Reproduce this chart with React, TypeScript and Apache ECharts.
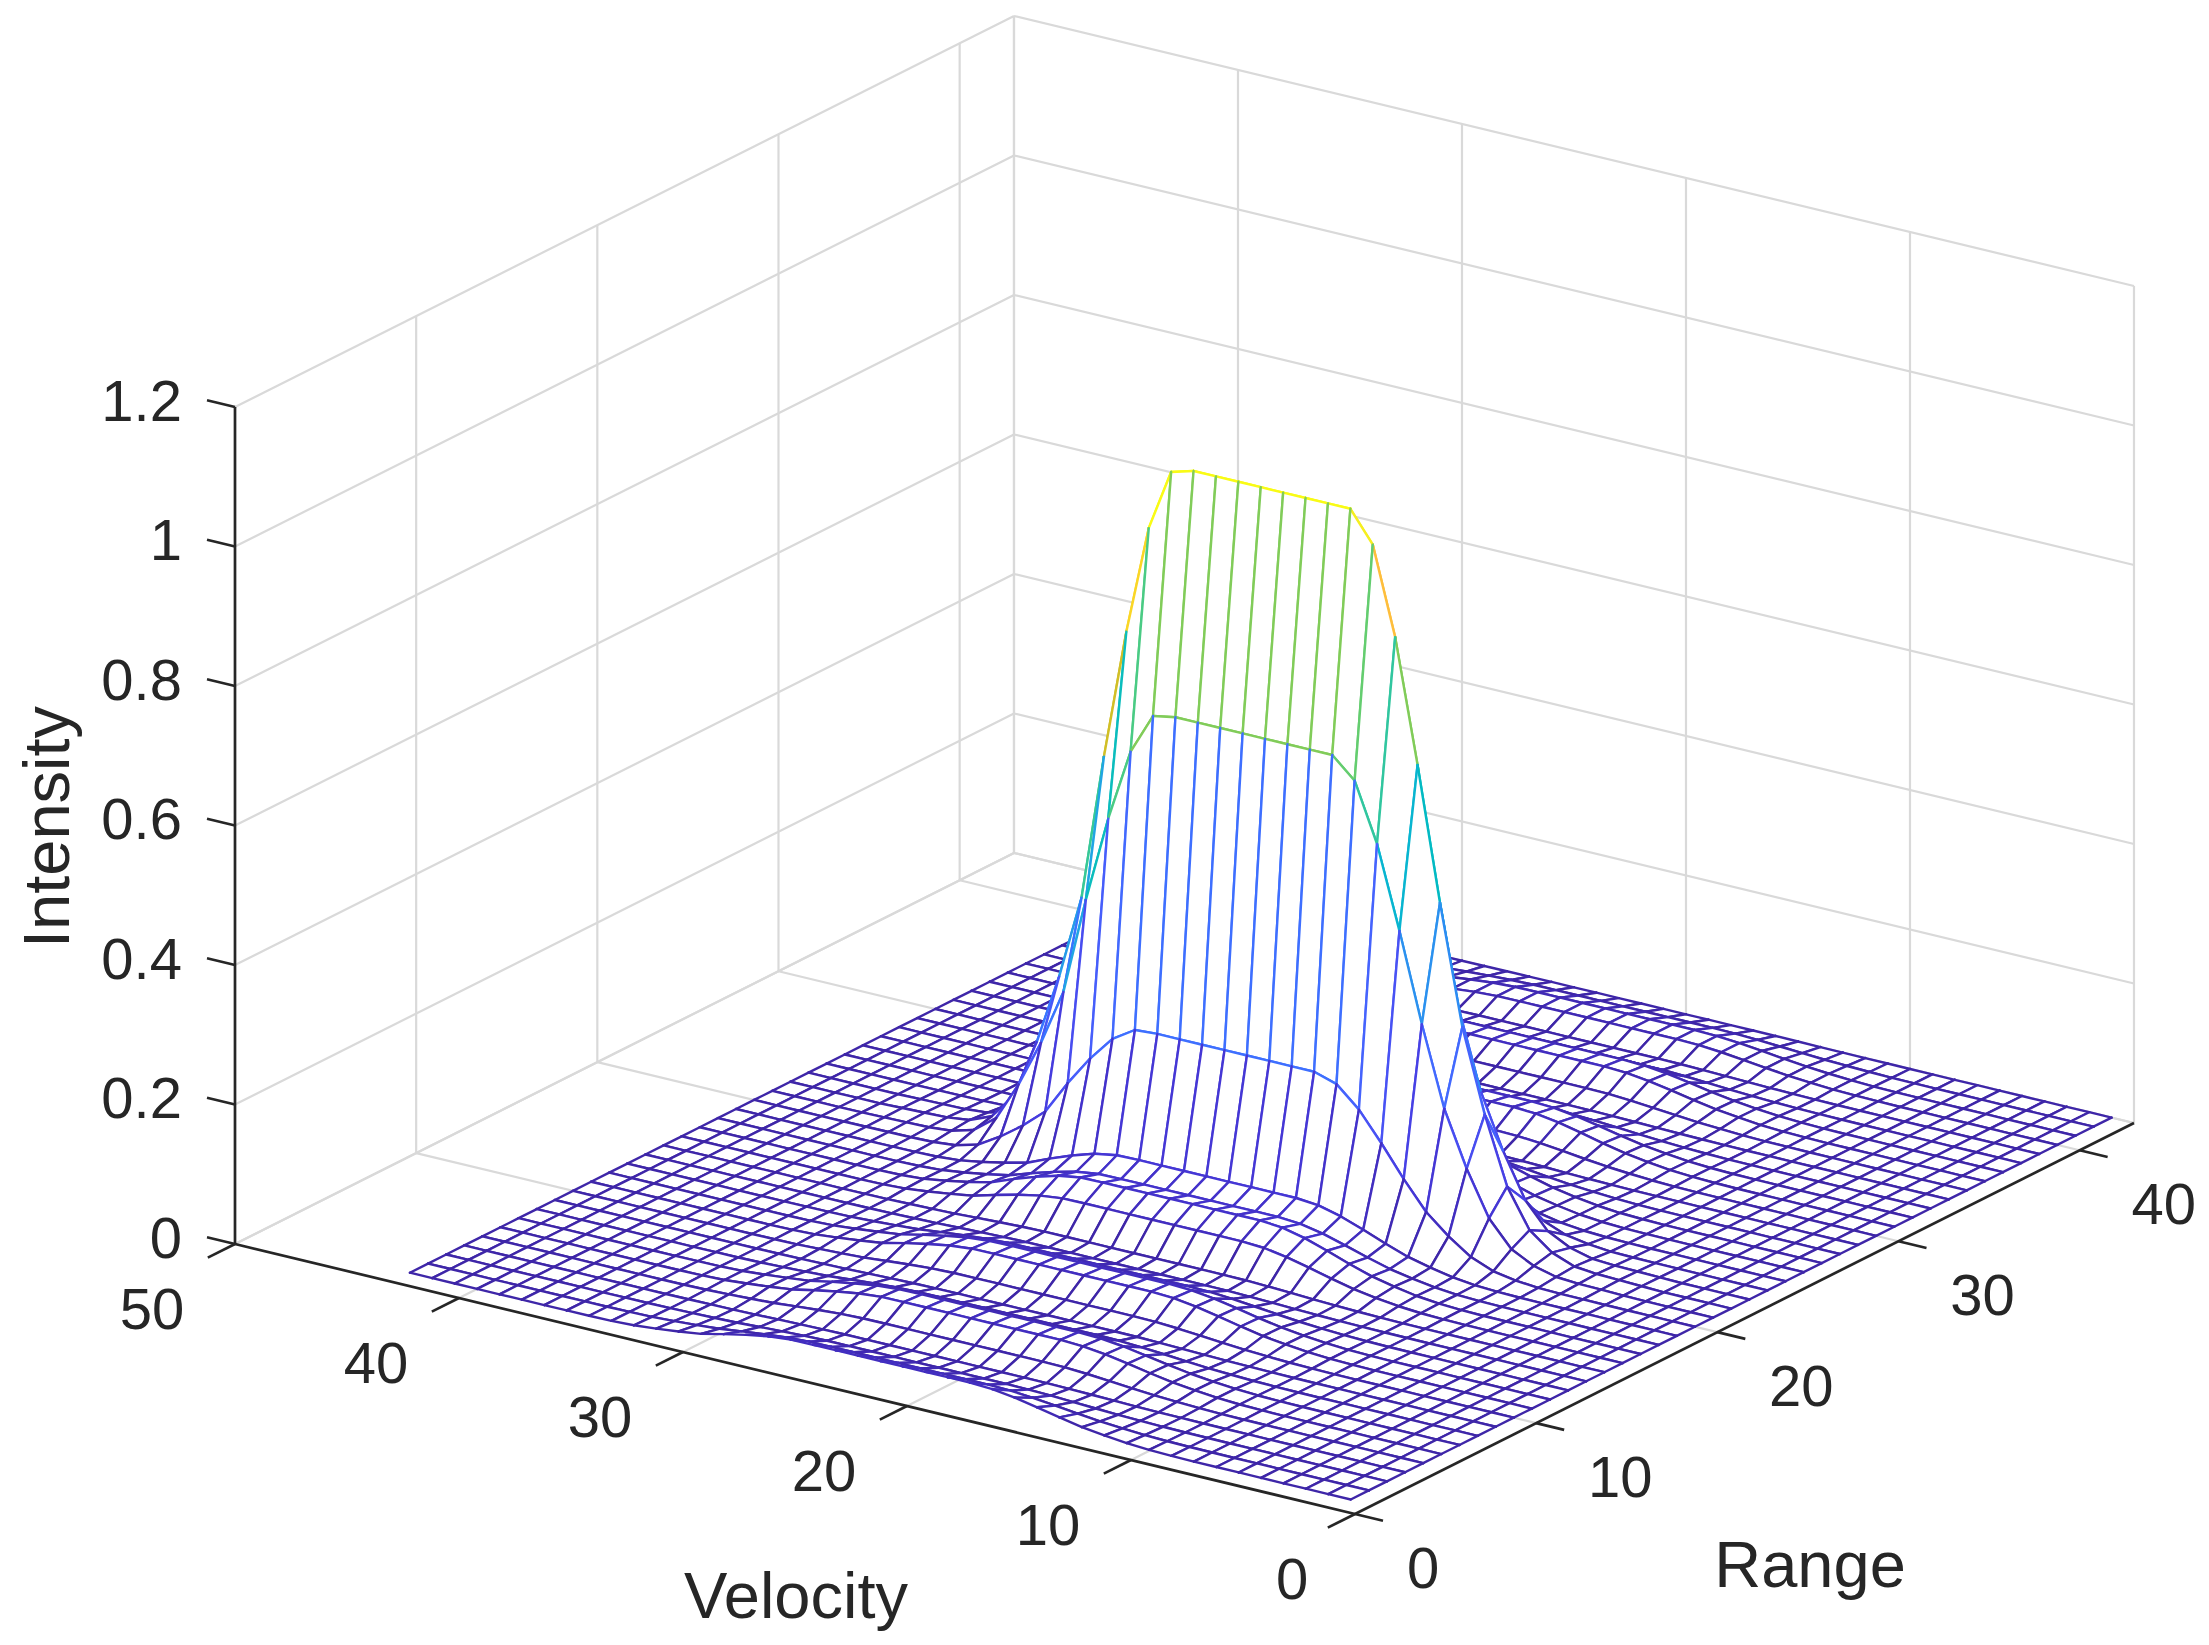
import React, { useEffect, useRef } from "react";
import * as echarts from "echarts";

// Values
const rangeIndex = Array.from({ length: 43 }, (_, i) => i + 1);
const velocityIndex = Array.from({ length: 43 }, (_, i) => i + 1);
// Intensity along Range (index 1..43), on the flat top of the ridge
const rangeProfile = [
  0.036, 0.02, 0.008, 0.004, 0.014, 0.032, 0.03, 0.013, 0.005, 0.014,
  0.036, 0.034, 0.018, 0.006, 0.008, 0.043, 0.06, 0.052, 0.066, 0.234,
  0.675, 1.015, 0.675, 0.234, 0.066, 0.055, 0.05, 0.02, 0.005, 0.02,
  0.04, 0.035, 0.012, 0.004, 0.015, 0.033, 0.03, 0.01, 0.005, 0.02,
  0.02, 0.01, 0.001,
];
// Relative height along Velocity (index 1..43)
const velocityProfile = [
  0, 0, 0, 0, 0.001, 0.002, 0.003, 0.006, 0.018, 0.042,
  0.096, 0.19, 0.306, 0.474, 0.661, 0.834, 0.957, 1, 1, 1,
  1, 1, 1, 1, 1, 0.991, 0.904, 0.75, 0.566, 0.359,
  0.24, 0.14, 0.057, 0.02, 0.007, 0.003, 0.002, 0.001, 0, 0,
  0, 0, 0,
];
const intensityTicks = [0, 0.2, 0.4, 0.6, 0.8, 1, 1.2];
const intensityLabels = ["0", "0.2", "0.4", "0.6", "0.8", "1", "1.2"];
const velocityTicks = [0, 10, 20, 30, 40, 50];
const rangeTicks = [0, 10, 20, 30, 40];

const R_MAX = 43;
const V_MAX = 50;
const Z_MAX = 1.2;
const Z_CLIM = 1.015;

// Parula colour map
const parula = [
  [0.2422,0.1504,0.6603],[0.2504,0.165,0.7076],[0.2578,0.1818,0.7511],[0.2647,0.1978,0.7952],
  [0.2706,0.2147,0.8364],[0.2751,0.2342,0.871],[0.2783,0.2559,0.8991],[0.2803,0.2782,0.9221],
  [0.2813,0.3006,0.9414],[0.281,0.3228,0.9579],[0.2795,0.3447,0.9717],[0.276,0.3667,0.9829],
  [0.2699,0.3892,0.9906],[0.2602,0.4123,0.9952],[0.244,0.4358,0.9988],[0.2206,0.4603,0.9973],
  [0.1963,0.4847,0.9892],[0.1834,0.5074,0.9798],[0.1786,0.5289,0.9682],[0.1764,0.5499,0.952],
  [0.1687,0.5703,0.9359],[0.154,0.5902,0.9218],[0.146,0.6091,0.9079],[0.138,0.6276,0.8973],
  [0.1248,0.6459,0.8883],[0.1113,0.6635,0.8763],[0.0952,0.6798,0.8598],[0.0689,0.6948,0.8394],
  [0.0297,0.7082,0.8163],[0.0036,0.7203,0.7917],[0.0067,0.7312,0.766],[0.0433,0.7411,0.7394],
  [0.0964,0.75,0.712],[0.1408,0.7584,0.6842],[0.1717,0.767,0.6554],[0.1938,0.7758,0.6251],
  [0.2161,0.7843,0.5923],[0.247,0.7918,0.5567],[0.2906,0.7973,0.5188],[0.3406,0.8008,0.4789],
  [0.3909,0.8029,0.4354],[0.4456,0.8024,0.3909],[0.5044,0.7993,0.348],[0.5616,0.7942,0.3045],
  [0.6174,0.7876,0.2612],[0.672,0.7793,0.2227],[0.7242,0.7698,0.191],[0.7738,0.7598,0.1646],
  [0.8203,0.7498,0.1535],[0.8634,0.7406,0.1596],[0.9035,0.733,0.1774],[0.9393,0.7288,0.21],
  [0.9728,0.7298,0.2394],[0.9956,0.7434,0.2371],[0.997,0.7659,0.2199],[0.9952,0.7861,0.1964],
  [0.9892,0.8133,0.1753],[0.9786,0.8386,0.1492],[0.9676,0.8639,0.1158],[0.961,0.889,0.1537],
  [0.9597,0.9135,0.1423],[0.9628,0.9373,0.1265],[0.9691,0.9606,0.1064],[0.9769,0.9839,0.0805],
];
function colourOf(z: number) {
  const i = Math.max(0, Math.min(63, Math.floor((z / Z_CLIM) * 64)));
  const c = parula[i];
  return `rgb(${Math.round(c[0] * 255)},${Math.round(c[1] * 255)},${Math.round(c[2] * 255)})`;
}

// Orthographic view: plane position of a (range, velocity, intensity) point
const ORIGIN = [1355, 1514];
const RANGE_UNIT = [779 / R_MAX, -391 / R_MAX];
const VEL_UNIT = [-1120 / V_MAX, -270 / V_MAX];
const Z_UNIT = 697.5;
function project(r: number, v: number, z: number) {
  return [
    ORIGIN[0] + r * RANGE_UNIT[0] + v * VEL_UNIT[0],
    ORIGIN[1] + r * RANGE_UNIT[1] + v * VEL_UNIT[1] - z * Z_UNIT,
  ];
}

const heightAt = (a: number, b: number) => rangeProfile[a] * velocityProfile[b];

const GRID_COLOUR = "#d9d9d9";
const AXIS_COLOUR = "#262626";
const FONT = '"Liberation Sans", Arial, sans-serif';
const TICK_SIZE = 58;
const LABEL_SIZE = 65;

type Seg = [number, number, number, number, number, number];
const gridSegs: Seg[] = [];
intensityTicks.forEach((z) => {
  gridSegs.push([0, V_MAX, z, R_MAX, V_MAX, z]);
  gridSegs.push([R_MAX, V_MAX, z, R_MAX, 0, z]);
});
[...rangeTicks.filter((r) => r > 0), R_MAX].forEach((r) => {
  gridSegs.push([r, V_MAX, 0, r, V_MAX, Z_MAX]);
});
velocityTicks.forEach((v) => {
  gridSegs.push([R_MAX, v, 0, R_MAX, v, Z_MAX]);
  if (v > 0 && v < V_MAX) gridSegs.push([0, v, 0, R_MAX, v, 0]);
});
rangeTicks.filter((r) => r > 0).forEach((r) => {
  gridSegs.push([r, 0, 0, r, V_MAX, 0]);
});
gridSegs.push([0, V_MAX, 0, R_MAX, V_MAX, 0]);
gridSegs.push([R_MAX, V_MAX, 0, R_MAX, 0, 0]);

const RT_DR = 1.5; // tick length in range units
const RT_DV = 1.25; // tick length in velocity units
const axisSegs: Seg[] = [
  [0, 0, 0, R_MAX, 0, 0],
  [0, 0, 0, 0, V_MAX, 0],
  [0, V_MAX, 0, 0, V_MAX, Z_MAX],
];
intensityTicks.forEach((z) => axisSegs.push([0, V_MAX, z, 0, V_MAX + RT_DV, z]));
velocityTicks.forEach((v) => axisSegs.push([0, v, 0, -RT_DR, v, 0]));
rangeTicks.forEach((r) => axisSegs.push([r, 0, 0, r, -RT_DV, 0]));

// Painter's order: far cells first
const cells: [number, number][] = [];
for (let a = rangeIndex.length - 2; a >= 0; a--) {
  for (let b = velocityIndex.length - 2; b >= 0; b--) cells.push([a, b]);
}

type Text = { text: string; x: number; y: number; size: number; rot?: number; align?: string };
const texts: Text[] = [
  ...intensityLabels.map((t, i) => ({
    text: t, x: 182, y: 1237 - intensityTicks[i] * Z_UNIT, size: TICK_SIZE, align: "right",
  })),
  ...velocityTicks.map((v) => ({
    text: String(v),
    x: ORIGIN[0] + v * VEL_UNIT[0] - (v === 0 ? 63 : 83),
    y: ORIGIN[1] + v * VEL_UNIT[1] + 64,
    size: TICK_SIZE,
  })),
  ...rangeTicks.map((r) => ({
    text: String(r),
    x: ORIGIN[0] + r * RANGE_UNIT[0] + (r === 0 ? 68 : 84),
    y: ORIGIN[1] + r * RANGE_UNIT[1] + 53,
    size: TICK_SIZE,
  })),
  { text: "Velocity", x: 796, y: 1595, size: LABEL_SIZE },
  { text: "Range", x: 1810, y: 1564, size: LABEL_SIZE },
  { text: "Intensity", x: 46, y: 827, size: LABEL_SIZE, rot: Math.PI / 2 },
];

export default function App() {
  const ref = useRef<HTMLDivElement>(null);
  useEffect(() => {
    document.body.style.margin = "0";
    document.body.style.overflow = "hidden";
    const chart = echarts.init(ref.current!, undefined, { renderer: "svg" });
    const at = (api: any, r: number, v: number, z: number) => api.coord(project(r, v, z));
    const segItem = (api: any, s: Seg, stroke: string, lineWidth: number) => {
      const p = at(api, s[0], s[1], s[2]);
      const q = at(api, s[3], s[4], s[5]);
      return { type: "line", shape: { x1: p[0], y1: p[1], x2: q[0], y2: q[1] }, style: { stroke, lineWidth } };
    };
    chart.setOption({
      animation: false,
      backgroundColor: "#fff",
      grid: { left: 0, right: 0, top: 0, bottom: 0 },
      xAxis: { type: "value", min: 0, max: 2209, show: false },
      yAxis: { type: "value", min: 0, max: 1645, inverse: true, show: false },
      tooltip: { show: false },
      series: [
        {
          type: "custom",
          coordinateSystem: "cartesian2d",
          silent: true,
          clip: false,
          z: 1,
          data: gridSegs.map((_, i) => i),
          renderItem: (p: any, api: any) => segItem(api, gridSegs[p.dataIndex], GRID_COLOUR, 2.2),
        },
        {
          type: "custom",
          coordinateSystem: "cartesian2d",
          silent: true,
          clip: false,
          z: 2,
          data: cells.map((_, i) => i),
          renderItem: (p: any, api: any) => {
            const [a, b] = cells[p.dataIndex];
            const P = (i: number, j: number) =>
              at(api, rangeIndex[i], velocityIndex[j], heightAt(i, j));
            const p00 = P(a, b);
            const p10 = P(a + 1, b);
            const p11 = P(a + 1, b + 1);
            const p01 = P(a, b + 1);
            const edge = (u: number[], w: number[], z: number) => ({
              type: "line",
              shape: { x1: u[0], y1: u[1], x2: w[0], y2: w[1] },
              style: { stroke: colourOf(z), lineWidth: 2.4, lineCap: "round" },
            });
            return {
              type: "group",
              children: [
                { type: "polygon", shape: { points: [p00, p10, p11, p01] }, style: { fill: "#fff" } },
                edge(p00, p10, heightAt(a, b)),
                edge(p00, p01, heightAt(a, b)),
                edge(p10, p11, heightAt(a + 1, b)),
                edge(p01, p11, heightAt(a, b + 1)),
              ],
            };
          },
        },
        {
          type: "custom",
          coordinateSystem: "cartesian2d",
          silent: true,
          clip: false,
          z: 3,
          data: axisSegs.map((_, i) => i),
          renderItem: (p: any, api: any) => segItem(api, axisSegs[p.dataIndex], AXIS_COLOUR, 2.7),
        },
        {
          type: "custom",
          coordinateSystem: "cartesian2d",
          silent: true,
          clip: false,
          z: 4,
          data: texts.map((_, i) => i),
          renderItem: (p: any, api: any) => {
            const t = texts[p.dataIndex];
            const c = api.coord([t.x, t.y]);
            return {
              type: "text",
              x: c[0],
              y: c[1],
              rotation: t.rot ?? 0,
              style: {
                text: t.text,
                font: `${t.size}px ${FONT}`,
                fill: AXIS_COLOUR,
                align: t.align ?? "center",
                verticalAlign: "middle",
              },
            };
          },
        },
      ],
    });
    return () => chart.dispose();
  }, []);
  return <div ref={ref} style={{ width: 2209, height: 1645 }} />;
}
